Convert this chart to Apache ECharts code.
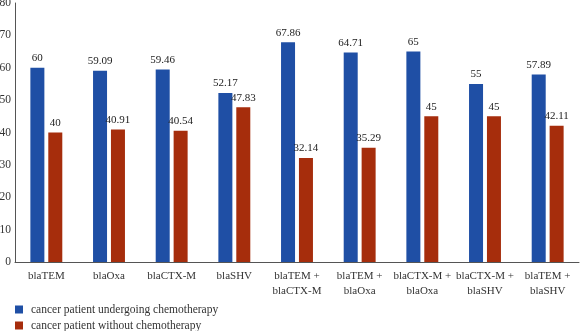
<!DOCTYPE html>
<html><head><meta charset="utf-8">
<script src="https://cdn.jsdelivr.net/npm/echarts@6/dist/echarts.min.js"></script>
<style>html,body{margin:0;padding:0;background:#fff}#c{width:580px;height:331px}</style>
</head><body><div id="c"></div>
<script>
const categories = ['blaTEM','blaOxa','blaCTX-M','blaSHV','blaTEM +\nblaCTX-M','blaTEM +\nblaOxa','blaCTX-M +\nblaOxa','blaCTX-M +\nblaSHV','blaTEM +\nblaSHV'];
const withChemo = [60, 59.09, 59.46, 52.17, 67.86, 64.71, 65, 55, 57.89];
const withoutChemo = [40, 40.91, 40.54, 47.83, 32.14, 35.29, 45, 45, 42.11];
const seriesNames = ['cancer patient undergoing chemotherapy','cancer patient without chemotherapy'];
const font = '"Liberation Serif", "DejaVu Serif", serif';
const chart = echarts.init(document.getElementById('c'));
const lbl = {show:true, position:'top', distance:4, color:'#222', fontFamily:font, fontSize:11};
chart.setOption({
  animation:false,
  grid:{left:15, right:1, top:3, bottom:69, containLabel:false, outerBoundsMode:'none'},
  legend:{orient:'vertical', left:15, top:303, height:29, padding:0, itemWidth:8, itemHeight:8, itemGap:3, icon:'rect',
    textStyle:{fontFamily:font, fontSize:11.5, lineHeight:13, color:'#333', padding:[0,0,0,3]}, data:seriesNames},
  xAxis:{type:'category', data:categories, axisTick:{show:false},
    axisLine:{lineStyle:{color:'#555', width:1}},
    axisLabel:{fontFamily:font, fontSize:11, color:'#333', margin:7, lineHeight:15, interval:0}},
  yAxis:{type:'value', min:0, max:80, interval:10, splitLine:{show:false},
    axisLine:{show:true, lineStyle:{color:'#555', width:1}}, axisTick:{show:false},
    axisLabel:{fontFamily:font, fontSize:11.5, color:'#333', margin:4}},
  series:[
    {name:seriesNames[0], type:'bar', data:withChemo, barWidth:14, barGap:'28%', itemStyle:{color:'#1f4fa5'}, label:lbl},
    {name:seriesNames[1], type:'bar', data:withoutChemo, barWidth:14, itemStyle:{color:'#a62d0c'}, label:lbl}
  ]
});
</script></body></html>
